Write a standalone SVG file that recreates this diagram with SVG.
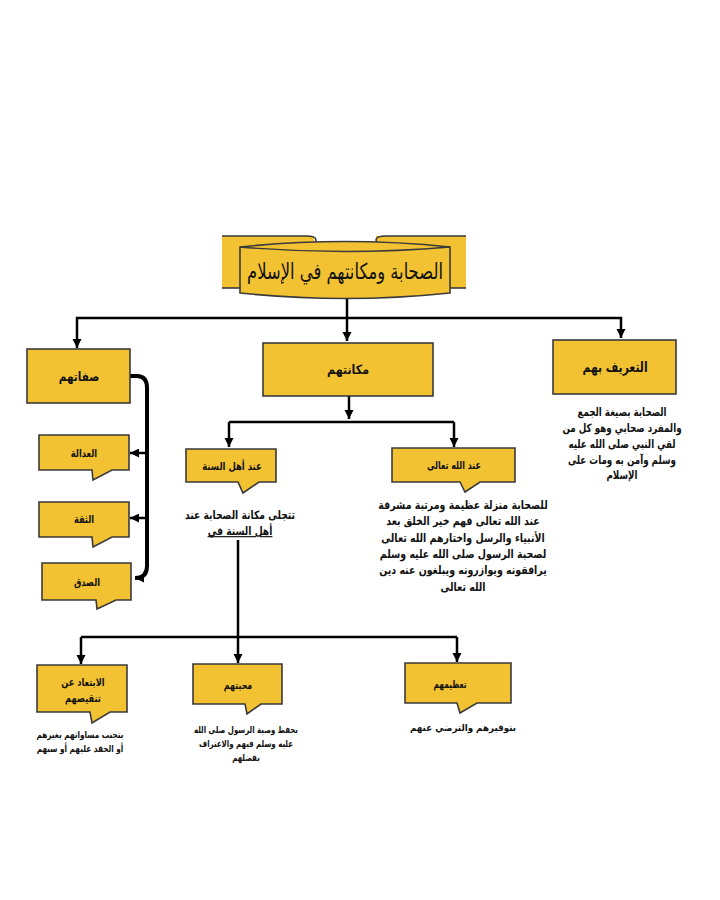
<svg xmlns="http://www.w3.org/2000/svg" width="720" height="900" viewBox="0 0 720 900">
<style>
.box{fill:#F2C232;stroke:#3a3a3a;stroke-width:1.6;stroke-linejoin:miter}
.t{font-family:"DejaVu Sans","Noto Sans",sans-serif;font-weight:bold;fill:#111;text-anchor:middle;direction:rtl}
.lbl{font-size:13px}
.small{font-size:11px}
.note{font-size:11.5px}
.tiny{font-size:9.5px}
.conn{stroke:#000;stroke-width:2.5;fill:none}
.thick{stroke:#000;stroke-width:4;fill:none}
</style>
<defs>
<marker id="ah" viewBox="0 0 10 10" refX="10" refY="5" markerWidth="9" markerHeight="11" markerUnits="userSpaceOnUse" orient="auto">
<path d="M0,0 L10,5 L0,10 Z" fill="#000"/>
</marker>
<marker id="ahs" viewBox="0 0 10 10" refX="10" refY="5" markerWidth="9" markerHeight="9" markerUnits="userSpaceOnUse" orient="auto">
<path d="M0,0 L10,5 L0,10 Z" fill="#000"/>
</marker>
</defs>
<rect width="720" height="900" fill="#fff"/>

<g id="connectors">
<path class="conn" d="M347,298 V341" marker-end="url(#ah)"/>
<path class="conn" d="M347,318 H77 V348" marker-end="url(#ah)"/>
<path class="conn" d="M347,318 H621 V338" marker-end="url(#ah)"/>
<path class="conn" d="M349,396 V419" marker-end="url(#ah)"/>
<path class="conn" d="M229,422 H454"/>
<path class="conn" d="M229,422 V447" marker-end="url(#ah)"/>
<path class="conn" d="M454,422 V447" marker-end="url(#ah)"/>
<path class="conn" d="M238,540 V663" marker-end="url(#ah)"/>
<path class="conn" d="M81,637 H457"/>
<path class="conn" d="M81,637 V664" marker-end="url(#ah)"/>
<path class="conn" d="M457,637 V662" marker-end="url(#ah)"/>
<path class="thick" d="M130,376 H137 Q147,376 147,388 V566 Q147,578 135,578" marker-end="url(#ahs)"/>
<path class="conn" d="M147,453 H130" marker-end="url(#ahs)"/>
<path class="conn" d="M147,518 H130" marker-end="url(#ahs)"/>
</g>

<g id="title">
<path class="box" style="stroke:none" d="M222,236 H314 V288 H222 Z"/>
<path fill="none" stroke="#3a3a3a" stroke-width="1.6" d="M222,236 H306 Q316,236 316,240 Q316,244 306,244"/>
<path fill="none" stroke="#3a3a3a" stroke-width="1.6" d="M222,288 H240"/>
<path class="box" style="stroke:none" d="M376,236 H466 V288 H376 Z"/>
<path fill="none" stroke="#3a3a3a" stroke-width="1.6" d="M466,236 H386 Q376,236 376,240 Q376,244 386,244"/>
<path fill="none" stroke="#3a3a3a" stroke-width="1.6" d="M450,288 H466"/>
<path class="box" d="M240,247 Q345,236 450,247 V293 Q345,304 240,293 Z"/>
<path fill="none" stroke="#3a3a3a" stroke-width="1.4" d="M240,247 Q345,256 450,247"/>
<g transform="translate(345,0) scale(0.745,1)">
<text class="t" x="0" y="279" style="font-size:22px;font-weight:normal">الصحابة ومكانتهم في الإسلام</text>
</g>
</g>

<g id="n-sifat">
<rect class="box" x="27" y="349" width="103" height="54"/>
<g transform="translate(79,0) scale(0.8,1)"><text class="t lbl" x="0" y="381">صفاتهم</text></g>
</g>
<g id="n-makana">
<rect class="box" x="263" y="343" width="170" height="53"/>
<g transform="translate(348,0) scale(0.85,1)"><text class="t lbl" x="0" y="374">مكانتهم</text></g>
</g>
<g id="n-tarif">
<rect class="box" x="553" y="340" width="123" height="54"/>
<g transform="translate(615,0) scale(0.77,1)"><text class="t" x="0" y="372" style="font-size:14px">التعريف بهم</text></g>
<g transform="translate(622,0) scale(0.76,1)">
<text class="t note" x="0" y="416">الصحابة بصيغة الجمع</text>
<text class="t note" x="0" y="432">والمفرد صحابي وهو كل من</text>
<text class="t note" x="0" y="448">لقي النبي صلى الله عليه</text>
<text class="t note" x="0" y="464">وسلم وآمن به ومات على</text>
<text class="t note" x="0" y="479">الإسلام</text>
</g>
</g>

<g id="n-adala">
<path class="box" d="M39,435 H129 V470 H112 L93,480 L92,470 H39 Z"/>
<g transform="translate(84,0) scale(0.75,1)"><text class="t small" x="0" y="457">العدالة</text></g>
</g>
<g id="n-thiqa">
<path class="box" d="M39,502 H129 V537 H112 L93,547 L92,537 H39 Z"/>
<g transform="translate(84,0) scale(0.75,1)"><text class="t small" x="0" y="523">الثقة</text></g>
</g>
<g id="n-sidq">
<path class="box" d="M42,563 H131 V600 H116 L97,609 L96,600 H42 Z"/>
<g transform="translate(87,0) scale(0.75,1)"><text class="t small" x="0" y="586">الصدق</text></g>
</g>

<g id="n-sunna">
<path class="box" d="M186,449 H276 V482 H259 L243,493 L238,482 H186 Z"/>
<g transform="translate(232,0) scale(0.77,1)"><text class="t small" x="0" y="470">عند أهل السنة</text></g>
<g transform="translate(240,0) scale(0.8,1)">
<text class="t note" x="0" y="519">تتجلى مكانة الصحابة عند</text>
<text class="t note" x="0" y="535" text-decoration="underline">أهل السنة في</text>
</g>
</g>
<g id="n-allah">
<path class="box" d="M392,448 H515 V482 H480 L465,492 L460,482 H392 Z"/>
<g transform="translate(454,0) scale(0.72,1)"><text class="t small" x="0" y="469">عند الله تعالى</text></g>
<g transform="translate(463,0) scale(0.82,1)">
<text class="t note" x="0" y="509">للصحابة منزلة عظيمة ومرتبة مشرفة</text>
<text class="t note" x="0" y="525">عند الله تعالى فهم خير الخلق بعد</text>
<text class="t note" x="0" y="542">الأنبياء والرسل واختارهم الله تعالى</text>
<text class="t note" x="0" y="558">لصحبة الرسول صلى الله عليه وسلم</text>
<text class="t note" x="0" y="574">يرافقونه ويوازرونه ويبلغون عنه دين</text>
<text class="t note" x="0" y="591">الله تعالى</text>
</g>
</g>

<g id="n-ibtiad">
<path class="box" d="M37,665 H127 V712 H110 L92,723 L90,712 H37 Z"/>
<g transform="translate(83,0) scale(0.75,1)">
<text class="t small" x="0" y="686">الابتعاد عن</text>
<text class="t small" x="0" y="702">تنقيصهم</text>
</g>
<g transform="translate(80,0) scale(0.77,1)">
<text class="t tiny" x="0" y="738">بتجنب مساواتهم بغيرهم</text>
<text class="t tiny" x="0" y="752">أو الحقد عليهم أو سبهم</text>
</g>
</g>
<g id="n-mahabba">
<path class="box" d="M193,664 H282 V704 H261 L247,714 L245,704 H193 Z"/>
<g transform="translate(238,0) scale(0.72,1)"><text class="t small" x="0" y="689">محبتهم</text></g>
<g transform="translate(246,0) scale(0.74,1)">
<text class="t tiny" x="0" y="733">بحفظ وصية الرسول صلى الله</text>
<text class="t tiny" x="0" y="747">عليه وسلم فيهم والاعتراف</text>
<text class="t tiny" x="0" y="761">بفضلهم</text>
</g>
</g>
<g id="n-taazim">
<path class="box" d="M405,663 H511 V703 H477 L460,713 L457,703 H405 Z"/>
<g transform="translate(450,0) scale(0.68,1)"><text class="t small" x="0" y="688">تعظيمهم</text></g>
<g transform="translate(463,0) scale(0.92,1)"><text class="t tiny" x="0" y="731">بتوقيرهم والترضي عنهم</text></g>
</g>
</svg>
